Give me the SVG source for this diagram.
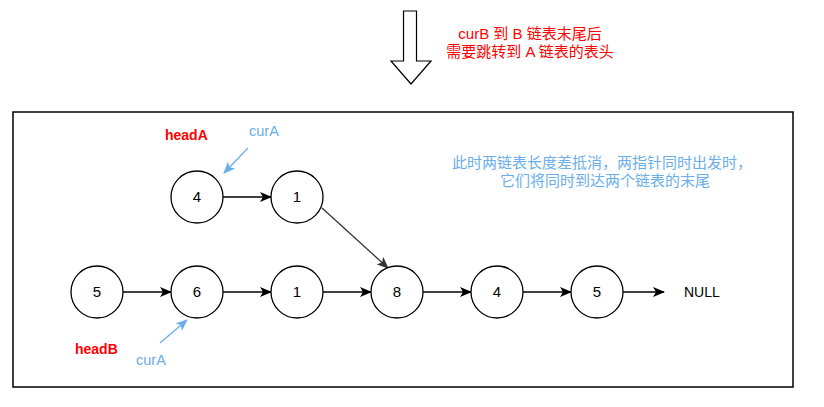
<svg xmlns="http://www.w3.org/2000/svg" width="824" height="407" viewBox="0 0 824 407">
<style>
.node circle{fill:#fff;stroke:#000;stroke-width:1.3}
.node text{font-family:"Liberation Sans",Arial,sans-serif;font-size:15px;text-anchor:middle;fill:#000}
.edge{stroke:#000;stroke-width:1.3;fill:none}
.blue{stroke:#6AAEEA;stroke-width:1.3;fill:none}
.red{font-family:"Liberation Sans","Noto Sans CJK SC",sans-serif;font-size:15px;fill:#FF0000;text-anchor:middle}
.bluet{font-family:"Liberation Sans","Noto Sans CJK SC",sans-serif;font-size:15px;fill:#6AAEEA;text-anchor:middle}
.lbl{font-family:"Liberation Sans",Arial,sans-serif;font-size:14px;font-weight:bold;fill:#FF0000}
.cur{font-family:"Liberation Sans",Arial,sans-serif;font-size:14.5px;fill:#6AAEEA}
</style>
<defs>
<marker id="arr" viewBox="0 0 12 10" refX="11" refY="5" markerWidth="12" markerHeight="10" markerUnits="userSpaceOnUse" orient="auto">
<path d="M0,0 L12,5 L0,10 L3,5 Z" fill="#000"/>
</marker>
<marker id="arrg" viewBox="0 0 12 10" refX="11" refY="5" markerWidth="12" markerHeight="10" markerUnits="userSpaceOnUse" orient="auto">
<path d="M0,0 L12,5 L0,10 L3,5 Z" fill="#333"/>
</marker>
<marker id="arrb" viewBox="0 0 12 10" refX="11" refY="5" markerWidth="12" markerHeight="10" markerUnits="userSpaceOnUse" orient="auto">
<path d="M0,0 L12,5 L0,10 L3,5 Z" fill="#6AAEEA"/>
</marker>
</defs>
<rect width="824" height="407" fill="#fff"/>
<g id="downArrow">
<polygon points="403.5,11 416.5,11 416.5,61 431,61 411,84 391,61 403.5,61" fill="#fff" stroke="#000" stroke-width="1.2"/>
</g>
<g id="note-top">
<text class="red" x="530" y="39">curB 到 B 链表末尾后</text>
<text class="red" x="530" y="57">需要跳转到 A 链表的表头</text>
</g>
<g id="frame">
<rect x="13" y="112" width="780" height="275" fill="none" stroke="#000" stroke-width="1.5"/>
</g>
<g id="note-right">
<text class="bluet" x="602" y="168">此时两链表长度差抵消，两指针同时出发时，</text>
<text class="bluet" x="605" y="186">它们将同时到达两个链表的末尾</text>
</g>
<g id="connectors">
<line class="edge" x1="223" y1="197" x2="271" y2="197" marker-end="url(#arr)"/>
<line x1="322" y1="208" x2="388" y2="268" stroke="#333" stroke-width="1.3" marker-end="url(#arrg)"/>
<line class="edge" x1="123" y1="292" x2="171" y2="292" marker-end="url(#arr)"/>
<line class="edge" x1="223" y1="292" x2="271" y2="292" marker-end="url(#arr)"/>
<line class="edge" x1="323" y1="292" x2="371" y2="292" marker-end="url(#arr)"/>
<line class="edge" x1="423" y1="292" x2="471" y2="292" marker-end="url(#arr)"/>
<line class="edge" x1="523" y1="292" x2="571" y2="292" marker-end="url(#arr)"/>
<line class="edge" x1="623" y1="292" x2="664" y2="292" marker-end="url(#arr)"/>
<line class="blue" x1="248" y1="148" x2="224" y2="173" marker-end="url(#arrb)"/>
<line class="blue" x1="160" y1="343" x2="187" y2="320" marker-end="url(#arrb)"/>
</g>
<g id="nA4" class="node"><circle cx="197" cy="197" r="26"/><text x="197" y="202">4</text></g>
<g id="nA1" class="node"><circle cx="297" cy="197" r="26"/><text x="297" y="202">1</text></g>
<g id="nB5" class="node"><circle cx="97" cy="292" r="26"/><text x="97" y="297">5</text></g>
<g id="nB6" class="node"><circle cx="197" cy="292" r="26"/><text x="197" y="297">6</text></g>
<g id="nB1" class="node"><circle cx="297" cy="292" r="26"/><text x="297" y="297">1</text></g>
<g id="n8" class="node"><circle cx="397" cy="292" r="26"/><text x="397" y="297">8</text></g>
<g id="n4" class="node"><circle cx="497" cy="292" r="26"/><text x="497" y="297">4</text></g>
<g id="n5" class="node"><circle cx="597" cy="292" r="26"/><text x="597" y="297">5</text></g>
<g id="null"><text x="684" y="297" font-family="Liberation Sans, Arial, sans-serif" font-size="14">NULL</text></g>
<g id="headA"><text class="lbl" x="165" y="140">headA</text></g>
<g id="curA-top"><text class="cur" x="249" y="136">curA</text></g>
<g id="headB"><text class="lbl" x="75" y="354">headB</text></g>
<g id="curA-bottom"><text class="cur" x="136" y="365">curA</text></g>
</svg>
